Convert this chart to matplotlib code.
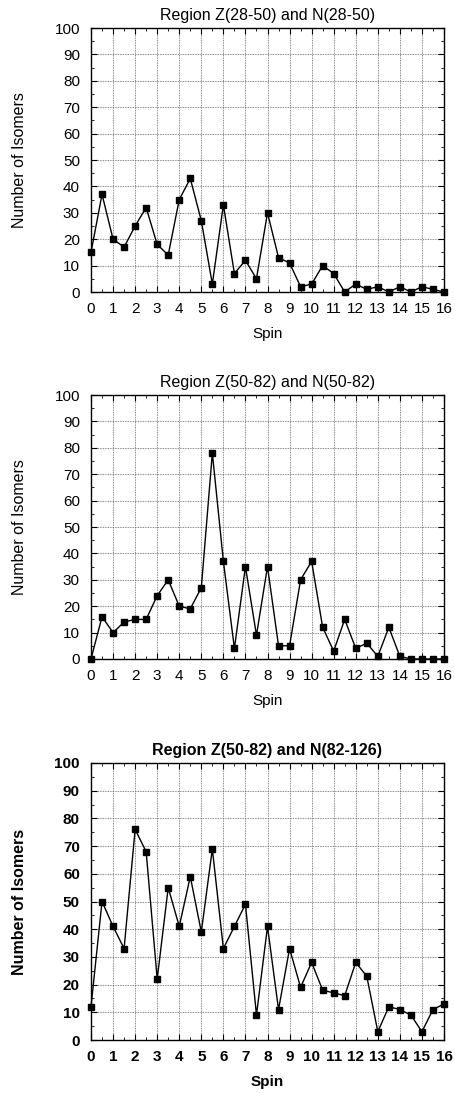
import numpy as np
import matplotlib.pyplot as plt
from matplotlib.ticker import MultipleLocator

plt.rcParams["font.family"] = ["Liberation Sans", "DejaVu Sans"]

spin = [0, 0.5, 1, 1.5, 2, 2.5, 3, 3.5, 4, 4.5, 5, 5.5, 6, 6.5, 7, 7.5,
        8, 8.5, 9, 9.5, 10, 10.5, 11, 11.5, 12, 12.5, 13, 13.5, 14, 14.5,
        15, 15.5, 16]

z28_n28 = [15, 37, 20, 17, 25, 32, 18, 14, 35, 43, 27, 3, 33, 7, 12, 5,
           30, 13, 11, 2, 3, 10, 7, 0, 3, 1, 2, 0, 2, 0, 2, 1, 0]
z50_n50 = [0, 16, 10, 14, 15, 15, 24, 30, 20, 19, 27, 78, 37, 4, 35, 9,
           35, 5, 5, 30, 37, 12, 3, 15, 4, 6, 1, 12, 1, 0, 0, 0, 0]
z50_n82 = [12, 50, 41, 33, 76, 68, 22, 55, 41, 59, 39, 69, 33, 41, 49, 9,
           41, 11, 33, 19, 28, 18, 17, 16, 28, 23, 3, 12, 11, 9, 3, 11, 13]

titles = ["Region Z(28-50) and N(28-50)",
          "Region Z(50-82) and N(50-82)",
          "Region Z(50-82) and N(82-126)"]
series = [z28_n28, z50_n50, z50_n82]
weights = ["normal", "normal", "bold"]

W, H = 455, 1093
fig = plt.figure(figsize=(W / 100, H / 100), dpi=100)

# axes boxes in pixels: (top, bottom)
boxes = [(28, 292), (395, 659), (763, 1040)]
left, right = 91, 444

for (top, bot), title, vals, fw in zip(boxes, titles, series, weights):
    ax = fig.add_axes([left / W, 1 - bot / H, (right - left) / W, (bot - top) / H])
    ax.plot(spin, vals, color="black", lw=1.0, marker="s", ms=3.8,
            clip_on=False, zorder=3)
    ax.set_xlim(0, 16)
    ax.set_ylim(0, 100)
    ax.xaxis.set_major_locator(MultipleLocator(1))
    ax.yaxis.set_major_locator(MultipleLocator(10))
    ax.xaxis.set_minor_locator(MultipleLocator(0.5))
    ax.yaxis.set_minor_locator(MultipleLocator(5))
    ax.tick_params(which="both", direction="in", top=True, right=True,
                   labelsize=11)
    ax.tick_params(axis="x", pad=7)
    ax.tick_params(axis="y", pad=8)
    ax.tick_params(which="major", length=4, width=0.8)
    ax.tick_params(which="minor", length=2, width=0.6)
    ax.grid(which="major", color="#666666", linestyle=(0, (1, 1)), lw=0.6)
    for lab in ax.get_xticklabels() + ax.get_yticklabels():
        lab.set_fontweight(fw)
    for s in ax.spines.values():
        s.set_linewidth(1.0)
    ax.set_title(title, fontsize=11.5, fontweight=fw, pad=6)
    ax.set_xlabel("Spin", fontsize=11, fontweight=fw, labelpad=8)
    ax.set_ylabel("Number of Isomers", fontsize=11.5, fontweight=fw, labelpad=20)

fig.savefig("out.png", dpi=100)
